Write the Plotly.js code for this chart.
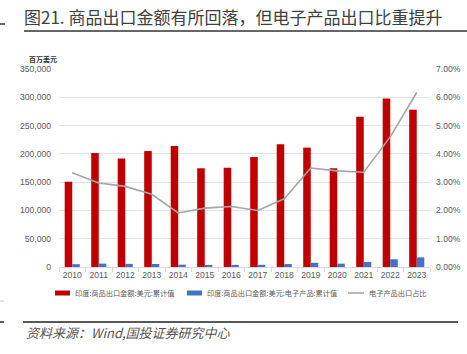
<!DOCTYPE html>
<html>
<head>
<meta charset="utf-8">
<script src="https://cdn.plot.ly/plotly-3.0.1.min.js"></script>
<style>html,body{margin:0;padding:0;background:#fff;}#chart{width:467px;height:354px;}</style>
</head>
<body>
<div id="chart"></div>
<script>
const years = ['2010','2011','2012','2013','2014','2015','2016','2017','2018','2019','2020','2021','2022','2023'];
const totalExports = [150800, 201500, 192000, 205000, 214000, 174500, 175500, 194500, 217000, 211000, 174500, 265700, 298000, 278000];
const electronicsExports = [5000, 6000, 5500, 5300, 4100, 3600, 3750, 3900, 5200, 7400, 5900, 8900, 13700, 17100];
const electronicsShare = [0.0333, 0.0297, 0.0285, 0.0257, 0.0191, 0.0208, 0.0214, 0.0200, 0.0241, 0.0350, 0.0340, 0.0335, 0.0460, 0.0617];
const seriesNames = ['印度:商品出口金额:美元:累计值', '印度:商品出口金额:美元:电子产品:累计值', '电子产品出口占比'];
const seriesColors = ['#C00000', '#4472C4', '#A5A5A5'];

const L = 59, R = 430, T = 69, B = 267, W = 467, H = 354;
const px = x => (x - L) / (R - L);
const py = y => (B - y) / (B - T);

const numFont = {family: '"Liberation Sans Narrow", "Arial Narrow", Arial, sans-serif', size: 8.6, color: '#595959'};
const cjk = '"Noto Sans CJK SC", "Noto Sans", sans-serif';

const traces = [
  {type: 'bar', x: years, y: totalExports, name: seriesNames[0], marker: {color: seriesColors[0]}, yaxis: 'y'},
  {type: 'bar', x: years, y: electronicsExports, name: seriesNames[1], marker: {color: seriesColors[1]}, yaxis: 'y'},
  {type: 'scatter', mode: 'lines', x: years, y: electronicsShare, name: seriesNames[2], line: {color: seriesColors[2], width: 1.6}, yaxis: 'y2'}
];

// legend drawn as key swatches + labels (positions only)
const legendItems = [
  {swatch: [55, 70], text: 73, kind: 'rect'},
  {swatch: [187, 202], text: 205, kind: 'rect'},
  {swatch: [348, 364], text: 367, kind: 'line'}
];
const legY = 293;
const legendShapes = legendItems.map((it, i) => it.kind === 'rect'
  ? {type: 'rect', xref: 'paper', yref: 'paper', x0: px(it.swatch[0]), x1: px(it.swatch[1]), y0: py(legY + 2.5), y1: py(legY - 2.5),
     fillcolor: seriesColors[i], line: {width: 0}}
  : {type: 'line', xref: 'paper', yref: 'paper', x0: px(it.swatch[0]), x1: px(it.swatch[1]), y0: py(legY), y1: py(legY),
     line: {color: seriesColors[i], width: 1.6}});
const legendAnns = legendItems.map((it, i) => ({text: seriesNames[i], xref: 'paper', yref: 'paper', x: px(it.text), y: py(legY),
  xanchor: 'left', yanchor: 'middle', showarrow: false, font: {family: cjk, size: 7.2, color: '#595959'}}));

const layout = {
  width: W, height: H,
  margin: {l: L, r: W - R, t: T, b: H - B, pad: 0},
  paper_bgcolor: '#fff', plot_bgcolor: '#fff',
  barmode: 'group', bargap: 0.43, bargroupgap: 0,
  showlegend: false,
  title: {text: '图21. 商品出口金额有所回落，但电子产品出口比重提升', x: 24 / W, xanchor: 'left', xref: 'container',
          y: 1 - 18 / H, yanchor: 'middle', yref: 'container',
          font: {family: cjk, size: 17, color: '#404040'}},
  xaxis: {type: 'category', tickfont: numFont, tickangle: 0, showgrid: false, showline: true, linecolor: '#D9D9D9', linewidth: 1,
          ticks: 'outside', tickson: 'boundaries', ticklen: 4, tickcolor: '#D9D9D9', automargin: false},
  yaxis: {range: [0, 350000], dtick: 50000, tickformat: ',d', tickfont: numFont, gridcolor: '#E4E4E4', gridwidth: 1,
          zeroline: false, showline: false, ticks: '', ticklabelstandoff: 7, automargin: false},
  yaxis2: {range: [0, 0.07], dtick: 0.01, tickformat: '.2%', tickfont: numFont, overlaying: 'y', side: 'right',
           showgrid: false, zeroline: false, showline: false, ticks: '', ticklabelstandoff: 5, automargin: false},
  annotations: [
    {text: '<b>百万美元</b>', xref: 'paper', yref: 'paper', x: px(27), y: py(59.5), xanchor: 'left', yanchor: 'middle',
     showarrow: false, font: {family: cjk, size: 7, color: '#333'}},
    {text: '<i>资料来源：Wind,国投证券研究中心</i>', xref: 'paper', yref: 'paper', x: px(24), y: py(332), xanchor: 'left', yanchor: 'middle',
     showarrow: false, font: {family: cjk, size: 13, color: '#555'}}
  ].concat(legendAnns),
  shapes: [
    {type: 'line', xref: 'paper', yref: 'paper', x0: px(24), x1: px(467), y0: py(31), y1: py(31), line: {color: '#333', width: 1.5}},
    {type: 'line', xref: 'paper', yref: 'paper', x0: px(0), x1: px(5), y0: py(24), y1: py(24), line: {color: '#333', width: 1.5}},
    {type: 'line', xref: 'paper', yref: 'paper', x0: px(23), x1: px(458), y0: py(322), y1: py(322), line: {color: '#222', width: 1.5}},
    {type: 'line', xref: 'paper', yref: 'paper', x0: px(0), x1: px(4), y0: py(322), y1: py(322), line: {color: '#222', width: 1.5}},
    {type: 'line', xref: 'paper', yref: 'paper', x0: px(0), x1: px(4), y0: py(301), y1: py(301), line: {color: '#ccc', width: 1}}
  ].concat(legendShapes)
};

Plotly.newPlot('chart', traces, layout, {staticPlot: true, displayModeBar: false});
</script>
</body>
</html>
